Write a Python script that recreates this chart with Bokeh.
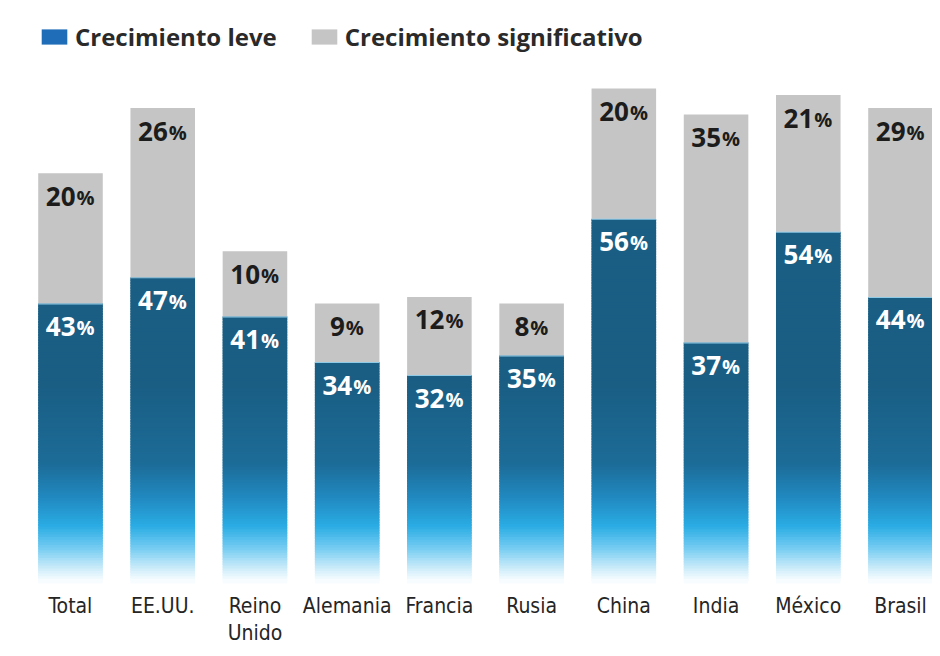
from bokeh.plotting import figure
from bokeh.models import Range1d, Legend, LegendItem, ColumnDataSource
from bokeh.core.properties import value
from bokeh.embed import file_html
from bokeh.resources import INLINE

# ---- data ----
countries = ["Total", "EE.UU.", "Reino\nUnido", "Alemania", "Francia", "Rusia",
             "China", "India", "México", "Brasil"]
leve = [43, 47, 41, 34, 32, 35, 56, 37, 54, 44]
significativo = [20, 26, 10, 9, 12, 8, 20, 35, 21, 29]
series_names = ["Crecimiento leve", "Crecimiento significativo"]

# ---- styling ----
BLUE_DARK = (26, 94, 132)
GRAY = "#c5c5c5"
LEGEND_BLUE = "#1f6cb8"
BAR_W = 0.70
NARROW = value("'DejaVu Sans Condensed', 'Liberation Sans Narrow', Roboto, sans-serif")

def hexc(c):
    return "#%02x%02x%02x" % tuple(int(round(v)) for v in c)

stops = [(0.0, (252, 254, 255)), (2.0, (205, 236, 250)), (5.0, (120, 205, 242)),
         (8.5, (42, 172, 228)), (13.0, (33, 136, 191)), (18.0, (28, 108, 152)),
         (30.0, BLUE_DARK)]

def grad_color(v):
    for (a, ca), (b, cb) in zip(stops[:-1], stops[1:]):
        if a <= v <= b:
            t = (v - a) / (b - a)
            return tuple(ca[i] + (cb[i] - ca[i]) * t for i in range(3))
    return stops[-1][1]

x = list(range(len(countries)))

p = figure(width=932, height=648, output_backend="svg", toolbar_location=None,
           x_range=Range1d(-0.759, 9.347), y_range=Range1d(-9.98, 89.51),
           min_border=0, outline_line_color=None)
p.axis.visible = False
p.grid.visible = False
p.background_fill_color = "white"
p.border_fill_color = "white"

# blue segments: gradient slices covering the whole segment (overlapping to hide seams)
gx, gb, gt, gc = [], [], [], []
step = 0.4
for i, lv in enumerate(leve):
    n = int(lv / step)
    for k in range(n, -1, -1):
        b0 = k * step
        if b0 >= lv:
            continue
        t0 = min(lv, b0 + step * 1.8)
        gx.append(i); gb.append(b0); gt.append(t0)
        gc.append(hexc(grad_color(b0 + step / 2)))
p.vbar(x=gx, bottom=gb, top=gt, width=BAR_W, fill_color=gc, line_color=None)

# gray segments
tops = [a + b for a, b in zip(leve, significativo)]
p.vbar(x=x, bottom=leve, top=tops, width=BAR_W, fill_color=GRAY, line_color=None)
p.vbar(x=x, bottom=[v - 0.15 for v in leve], top=leve, width=BAR_W, fill_color="#8ec9e6", line_color=None)

# value labels: number + smaller %
def add_labels(yvals, vals, color):
    offs_num, offs_pct = [], []
    for v in vals:
        nd = len(str(v))
        numw = 14.8 * nd
        pctw = 18.5
        total = numw + pctw + 1
        right = -total / 2 + numw
        offs_num.append(right)
        offs_pct.append(right + 1)
    src = ColumnDataSource(dict(x=x, y=yvals, num=[str(v) for v in vals],
                                pct=["%"] * len(vals), on=offs_num, op=offs_pct))
    p.text(x="x", y="y", text="num", source=src, x_offset="on", y_offset=23,
           text_align="right", text_baseline="middle", text_color=color,
           text_font=value("Open Sans"), text_font_style="bold", text_font_size="26px")
    p.text(x="x", y="y", text="pct", source=src, x_offset="op", y_offset=24,
           text_align="left", text_baseline="middle", text_color=color,
           text_font=value("Open Sans"), text_font_style="bold", text_font_size="20px")

add_labels(tops, significativo, "#1c1c1c")
add_labels(leve, leve, "white")

# category labels
p.text(x=x, y=[0] * len(x), text=countries, y_offset=11, text_align="center",
       text_baseline="top", text_color="#252525",
       text_font=NARROW, text_font_size="21px", text_line_height=1.1)

# legend (dummy renderers placed outside the visible range)
r1 = p.rect(x=[-50], y=[-500], width=1, height=1, fill_color=LEGEND_BLUE, line_color=None)
r2 = p.rect(x=[-50], y=[-500], width=1, height=1, fill_color=GRAY, line_color=None)
legend = Legend(items=[LegendItem(label=series_names[0], renderers=[r1]),
                       LegendItem(label=series_names[1], renderers=[r2])],
                orientation="horizontal", location=(38, 595), padding=0, margin=0,
                glyph_width=32, glyph_height=19, label_standoff=5, spacing=31,
                label_text_font="Open Sans", label_text_font_size="24px",
                label_text_color="#2a2a2a", label_text_font_style="bold",
                label_height=19, background_fill_alpha=0, border_line_color=None)
p.add_layout(legend)

open("out.html", "w").write(file_html(p, INLINE))
